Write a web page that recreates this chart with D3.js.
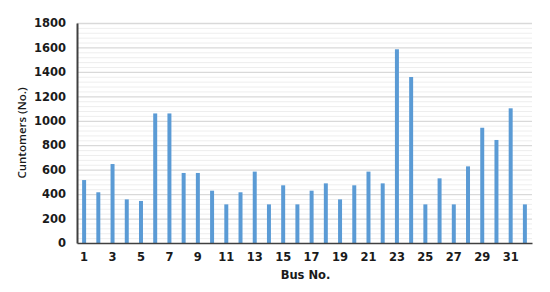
<!DOCTYPE html>
<html>
<head>
<meta charset="utf-8">
<script src="https://cdn.jsdelivr.net/npm/d3@7"></script>
<style>
  body { margin: 0; background: #fff; }
  svg { display: block; font-family: "DejaVu Sans", Verdana, sans-serif; }
</style>
</head>
<body>
<div id="chart"></div>
<script>
// bus numbers and customer counts
const buses = d3.range(1, 33);
const customers = [515, 415, 646, 357, 344, 1060, 1060, 573, 573, 428,
                   316, 415, 584, 316, 472, 316, 428, 488, 357, 472,
                   584, 488, 1585, 1358, 316, 529, 316, 627, 943, 843,
                   1102, 316];
const yTicks = [0, 200, 400, 600, 800, 1000, 1200, 1400, 1600, 1800];
const xTickLabels = [1, 3, 5, 7, 9, 11, 13, 15, 17, 19, 21, 23, 25, 27, 29, 31];

const width = 550, height = 292;
const margin = { top: 23, right: 18, bottom: 49, left: 77 };
const innerW = width - margin.left - margin.right;
const innerH = height - margin.top - margin.bottom;

const svg = d3.select("#chart").append("svg")
    .attr("width", width)
    .attr("height", height);

const g = svg.append("g")
    .attr("transform", `translate(${margin.left},${margin.top})`);

const x = d3.scaleBand().domain(buses).range([0, innerW]).paddingInner(0.72).paddingOuter(0.36);
const y = d3.scaleLinear().domain([0, 1800]).range([innerH, 0]);

// minor gridlines (every 40)
g.append("g")
    .selectAll("line")
    .data(d3.range(40, 1800, 40).filter(v => v % 200 !== 0))
    .join("line")
    .attr("x1", 0).attr("x2", innerW)
    .attr("y1", d => y(d) + 0.5).attr("y2", d => y(d) + 0.5)
    .attr("stroke", "#eeeeee");

// major gridlines
g.append("g")
    .selectAll("line")
    .data(yTicks.slice(1))
    .join("line")
    .attr("x1", 0).attr("x2", innerW)
    .attr("y1", d => y(d) + 0.5).attr("y2", d => y(d) + 0.5)
    .attr("stroke", "#d9d9d9")
    .attr("stroke-width", 1.3);

// bars
g.append("g")
    .selectAll("rect")
    .data(customers)
    .join("rect")
    .attr("x", (d, i) => x(buses[i]))
    .attr("y", d => y(d))
    .attr("width", x.bandwidth())
    .attr("height", d => innerH - y(d))
    .attr("fill", "#5b9bd5");

// y axis
const yAxis = g.append("g")
    .call(d3.axisLeft(y).tickValues(yTicks).tickFormat(d3.format("d")).tickSize(0).tickPadding(11));
yAxis.select(".domain").attr("stroke", "#404040").attr("stroke-width", 2);
yAxis.selectAll("text")
    .attr("font-size", 11.5).attr("font-weight", "bold")
    .attr("font-family", "DejaVu Sans").attr("fill", "#1a1a1a");

// x axis
const xAxis = g.append("g")
    .attr("transform", `translate(0,${innerH})`)
    .call(d3.axisBottom(x).tickValues(xTickLabels).tickSize(0).tickPadding(10));
xAxis.select(".domain").attr("stroke", "#404040").attr("stroke-width", 1.5);
xAxis.selectAll("text")
    .attr("font-size", 11.5).attr("font-weight", "bold")
    .attr("font-family", "DejaVu Sans").attr("fill", "#1a1a1a");

// axis titles
svg.append("text")
    .attr("x", margin.left + innerW / 2 + 1)
    .attr("y", 279)
    .attr("text-anchor", "middle")
    .attr("font-size", 11.5).attr("font-weight", "bold")
    .attr("fill", "#1a1a1a")
    .text("Bus No.");

svg.append("text")
    .attr("transform", `translate(26,133) rotate(-90)`)
    .attr("text-anchor", "middle")
    .attr("font-size", 11.5)
    .attr("font-family", "Open Sans")
    .attr("font-weight", 600)
    .attr("fill", "#1a1a1a")
    .text("Cuntomers (No.)");
</script>
</body>
</html>
